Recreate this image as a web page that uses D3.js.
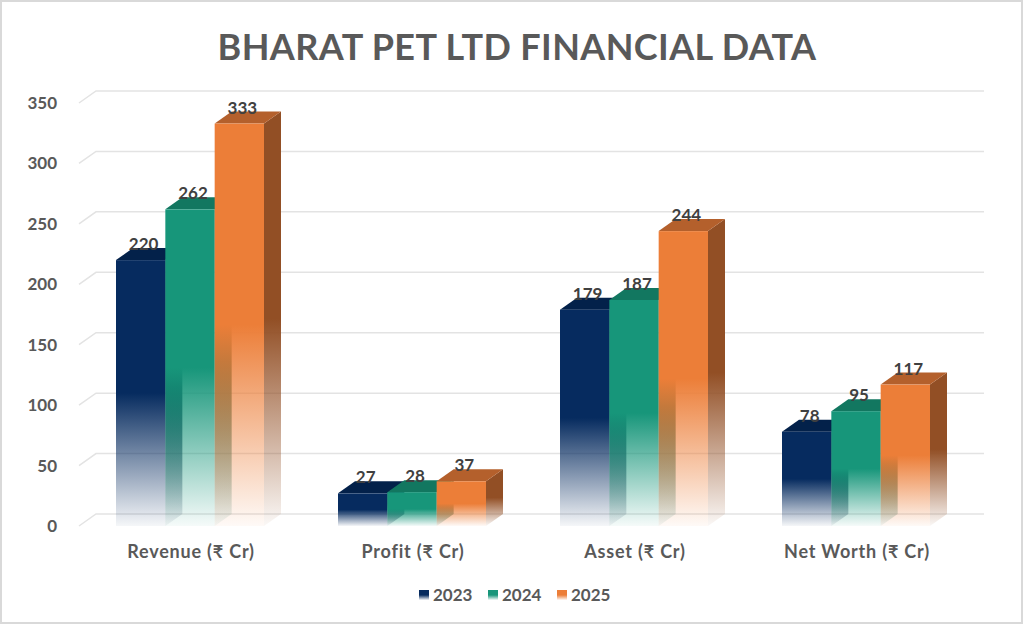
<!DOCTYPE html>
<html lang="en">
<head>
<meta charset="UTF-8">
<title>Bharat Pet Ltd Financial Data</title>
<style>
  body { margin: 0; background: #fff; }
  text { font-family: Lato, "Noto Sans", sans-serif; font-weight: 700; }
</style>
</head>
<body>
<script src="https://cdn.jsdelivr.net/npm/d3@7"></script>
<script>
const categories = ["Revenue (₹ Cr)", "Profit (₹ Cr)", "Asset (₹ Cr)", "Net Worth (₹ Cr)"];
const years = ["2023", "2024", "2025"];
const values2023 = [220, 27, 179, 78];
const values2024 = [262, 28, 187, 95];
const values2025 = [333, 37, 244, 117];
const yTicks = [0, 50, 100, 150, 200, 250, 300, 350];

const width = 1024, height = 625;
const depth = {dx: 17, dy: -12};

// front, top, side shades per year
const shades = {
  "2023": {front: "#062B5F", top: "#03214A", side: "#021A3C"},
  "2024": {front: "#17967A", top: "#127760", side: "#0E6350"},
  "2025": {front: "#EC7E38", top: "#B4602C", side: "#924F25"}
};

const series = years.map((yr, i) => ({
  year: yr,
  values: [values2023, values2024, values2025][i]
}));

const svg = d3.select("body").append("svg")
  .attr("width", width)
  .attr("height", height);

const defs = svg.append("defs");
years.forEach(yr => {
  ["front", "side"].forEach(face => {
    const g = defs.append("linearGradient")
      .attr("id", `g-${face}-${yr}`)
      .attr("x1", 0).attr("y1", 0).attr("x2", 0).attr("y2", 1);
    g.append("stop").attr("offset", 0).attr("stop-color", shades[yr][face]).attr("stop-opacity", 1);
    g.append("stop").attr("offset", 0.5).attr("stop-color", shades[yr][face]).attr("stop-opacity", 1);
    g.append("stop").attr("offset", 1).attr("stop-color", shades[yr][face]).attr("stop-opacity", 0.04);
  });
});

// chart border
svg.append("rect")
  .attr("x", 1).attr("y", 1)
  .attr("width", width - 3).attr("height", height - 3)
  .attr("fill", "#fff")
  .attr("stroke", "#D9D9D9")
  .attr("stroke-width", 2);

svg.append("text")
  .attr("x", 517).attr("y", 60)
  .attr("text-anchor", "middle")
  .attr("font-size", 36)
  .attr("letter-spacing", 0.4)
  .attr("fill", "#595959")
  .text("BHARAT PET LTD FINANCIAL DATA");

const x = d3.scaleBand()
  .domain(categories)
  .range([79, 967])
  .paddingInner(1 / 3)
  .paddingOuter(1 / 6);

const xs = d3.scaleBand()
  .domain(years)
  .range([0, x.bandwidth()]);

const y = d3.scaleLinear()
  .domain([0, 350])
  .range([526, 103]);

// gridlines on the back wall with the slanted side-wall piece
const grid = svg.append("g");
yTicks.forEach(t => {
  const y0 = y(t);
  grid.append("path")
    .attr("d", `M79,${y0}L${79 + depth.dx},${y0 + depth.dy}L${967 + depth.dx},${y0 + depth.dy}`)
    .attr("fill", "none")
    .attr("stroke", "#E3E3E3")
    .attr("stroke-width", 1.5);
  grid.append("text")
    .attr("x", 57).attr("y", y0 + 6)
    .attr("text-anchor", "end")
    .attr("font-size", 17)
    .attr("fill", "#595959")
    .text(t);
});

// bars, drawn left to right so each one covers its neighbour's side face
const bars = svg.append("g");
categories.forEach((cat, ci) => {
  series.forEach(s => {
    const v = s.values[ci];
    const x0 = x(cat) + xs(s.year);
    const x1 = x0 + xs.bandwidth();
    const yt = y(v), yb = y(0);
    const {dx, dy} = depth;
    const g = bars.append("g");
    g.append("path")
      .attr("d", `M${x1},${yt}L${x1 + dx},${yt + dy}L${x1 + dx},${yb + dy}L${x1},${yb}Z`)
      .attr("fill", `url(#g-side-${s.year})`);
    g.append("path")
      .attr("d", `M${x0},${yt}L${x0 + dx},${yt + dy}L${x1 + dx},${yt + dy}L${x1},${yt}Z`)
      .attr("fill", shades[s.year].top);
    g.append("rect")
      .attr("x", x0).attr("y", yt)
      .attr("width", x1 - x0).attr("height", yb - yt)
      .attr("fill", `url(#g-front-${s.year})`);
  });
});

// data labels on top
const labels = svg.append("g");
categories.forEach((cat, ci) => {
  series.forEach(s => {
    const v = s.values[ci];
    labels.append("text")
      .attr("x", x(cat) + xs(s.year) + xs.bandwidth() / 2 + 3)
      .attr("y", y(v) - 10)
      .attr("text-anchor", "middle")
      .attr("font-size", 17)
      .attr("fill", "#404040")
      .text(v);
  });
});

// category axis labels
svg.append("g").selectAll("text")
  .data(categories)
  .join("text")
  .attr("x", d => x(d) + x.bandwidth() / 2 + 1)
  .attr("y", 558)
  .attr("text-anchor", "middle")
  .attr("font-size", 18)
  .attr("letter-spacing", 0.8)
  .attr("fill", "#595959")
  .text(d => d);

// legend
const legendX = [419, 488, 557];
const legend = svg.append("g");
years.forEach((yr, i) => {
  legend.append("rect")
    .attr("x", legendX[i]).attr("y", 590)
    .attr("width", 10).attr("height", 10)
    .attr("fill", `url(#g-front-${yr})`);
  legend.append("text")
    .attr("x", legendX[i] + 14).attr("y", 601)
    .attr("font-size", 17)
    .attr("fill", "#595959")
    .text(yr);
});
</script>
</body>
</html>
